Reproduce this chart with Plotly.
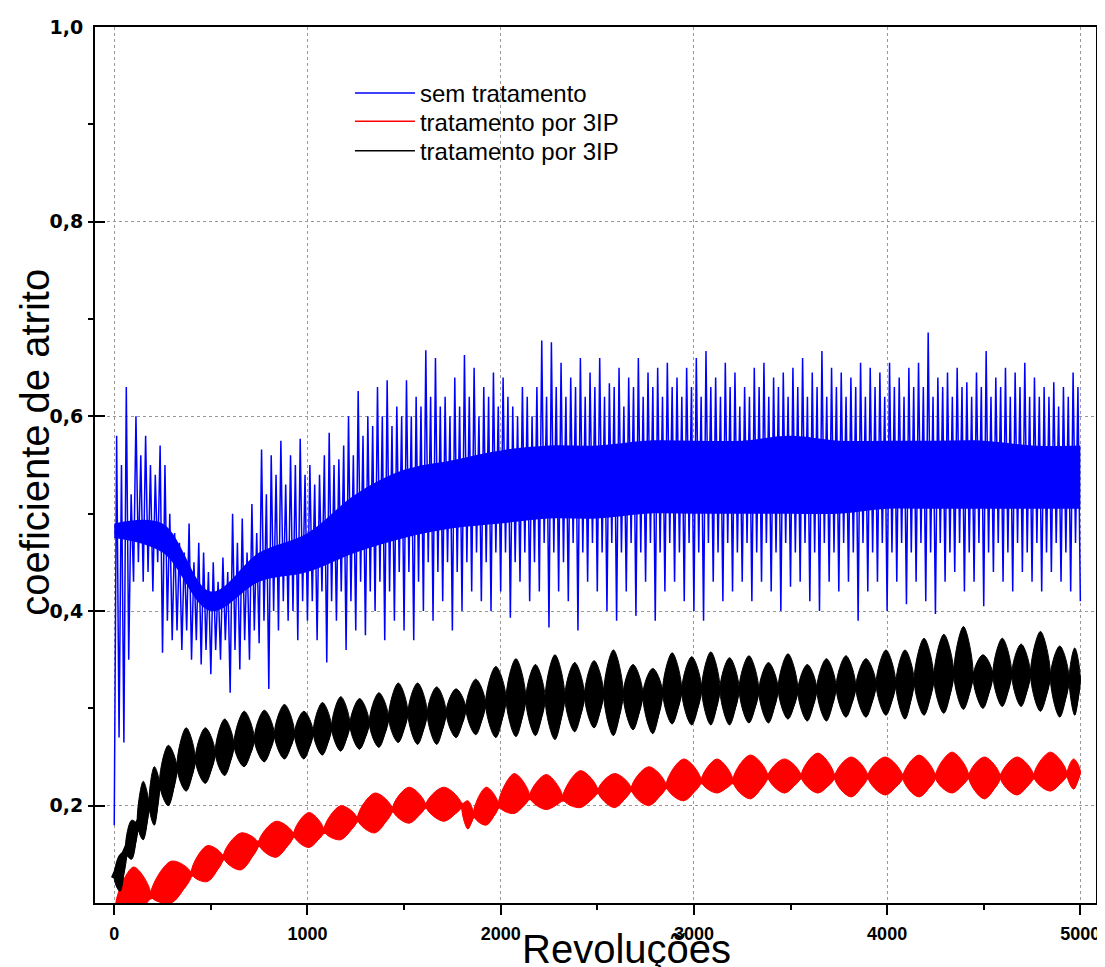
import plotly.graph_objects as go

# ---------------- data ----------------
x_tick_vals = [0, 1000, 2000, 3000, 4000, 5000]
y_tick_vals = [0.2, 0.4, 0.6, 0.8, 1.0]
y_tick_text = ["0,2", "0,4", "0,6", "0,8", "1,0"]
series_names = ["sem tratamento", "tratamento por 3IP", "tratamento por 3IP"]
x_title = "Revoluções"
y_title = "coeficiente de atrito"

# blue (sem tratamento): oscillation minima at 0,25,...,5000 rev and maxima at 12.5,37.5,...
blue_lo_rev = [25 * k for k in range(201)]
blue_lo = [
    0.18, 0.27, 0.265, 0.35, 0.43, 0.45, 0.43, 0.44, 0.42, 0.45,
    0.357, 0.39, 0.37, 0.38, 0.36, 0.38, 0.35, 0.37, 0.345, 0.36,
    0.335, 0.36, 0.35, 0.37, 0.316, 0.36, 0.34, 0.37, 0.35, 0.38,
    0.367, 0.39, 0.32, 0.4, 0.38, 0.41, 0.39, 0.4, 0.37, 0.41,
    0.39, 0.41, 0.37, 0.42, 0.347, 0.41, 0.39, 0.42, 0.36, 0.41,
    0.38, 0.43, 0.375, 0.42, 0.4, 0.43, 0.37, 0.42, 0.39, 0.44,
    0.38, 0.44, 0.37, 0.43, 0.4, 0.45, 0.39, 0.44, 0.41, 0.45,
    0.38, 0.44, 0.4, 0.45, 0.42, 0.46, 0.41, 0.45, 0.4, 0.46,
    0.42, 0.46, 0.393, 0.45, 0.43, 0.46, 0.41, 0.45, 0.42, 0.47,
    0.383, 0.46, 0.42, 0.45, 0.41, 0.47, 0.38, 0.46, 0.43, 0.47,
    0.42, 0.46, 0.4, 0.47, 0.39, 0.46, 0.42, 0.47, 0.395, 0.46,
    0.43, 0.47, 0.39, 0.46, 0.42, 0.47, 0.43, 0.46, 0.41, 0.47,
    0.4, 0.46, 0.39, 0.47, 0.43, 0.46, 0.41, 0.47, 0.42, 0.46,
    0.43, 0.47, 0.41, 0.46, 0.43, 0.47, 0.42, 0.46, 0.4, 0.47,
    0.425, 0.46, 0.43, 0.47, 0.41, 0.46, 0.4, 0.47, 0.43, 0.46,
    0.42, 0.47, 0.43, 0.46, 0.39, 0.47, 0.42, 0.46, 0.43, 0.47,
    0.4, 0.46, 0.43, 0.47, 0.407, 0.46, 0.43, 0.47, 0.41, 0.46,
    0.397, 0.47, 0.43, 0.46, 0.44, 0.47, 0.42, 0.46, 0.43, 0.47,
    0.405, 0.46, 0.44, 0.47, 0.43, 0.46, 0.42, 0.47, 0.44, 0.46,
    0.43, 0.47, 0.42, 0.46, 0.44, 0.47, 0.43, 0.46, 0.42, 0.47,
    0.41]
blue_hi_rev = [12.5 + 25 * k for k in range(200)]
blue_hi = [
    0.58, 0.55, 0.63, 0.52, 0.6, 0.56, 0.58, 0.55, 0.54, 0.57,
    0.55, 0.5, 0.48, 0.47, 0.46, 0.49, 0.45, 0.47, 0.46, 0.44,
    0.45, 0.43, 0.455, 0.44, 0.5, 0.47, 0.495, 0.46, 0.51, 0.48,
    0.566, 0.52, 0.56, 0.54, 0.575, 0.53, 0.56, 0.55, 0.577, 0.54,
    0.55, 0.53, 0.54, 0.56, 0.583, 0.55, 0.556, 0.57, 0.6, 0.56,
    0.626, 0.58, 0.6, 0.59, 0.63, 0.6, 0.637, 0.59, 0.61, 0.6,
    0.637, 0.6, 0.62, 0.61, 0.668, 0.62, 0.66, 0.61, 0.62, 0.6,
    0.64, 0.61, 0.663, 0.62, 0.65, 0.6, 0.63, 0.62, 0.645, 0.61,
    0.64, 0.62, 0.61, 0.6, 0.63, 0.62, 0.6, 0.63, 0.678, 0.62,
    0.676, 0.63, 0.655, 0.62, 0.64, 0.63, 0.66, 0.62, 0.645, 0.63,
    0.66, 0.62, 0.634, 0.63, 0.65, 0.61, 0.64, 0.63, 0.66, 0.62,
    0.645, 0.63, 0.65, 0.62, 0.655, 0.63, 0.64, 0.62, 0.65, 0.63,
    0.66, 0.62, 0.667, 0.63, 0.64, 0.62, 0.655, 0.63, 0.645, 0.61,
    0.63, 0.62, 0.65, 0.63, 0.655, 0.62, 0.64, 0.63, 0.645, 0.62,
    0.65, 0.63, 0.66, 0.62, 0.645, 0.63, 0.667, 0.62, 0.65, 0.63,
    0.645, 0.62, 0.64, 0.63, 0.655, 0.62, 0.65, 0.63, 0.645, 0.62,
    0.655, 0.63, 0.64, 0.62, 0.65, 0.63, 0.655, 0.63, 0.686, 0.62,
    0.64, 0.63, 0.645, 0.62, 0.65, 0.63, 0.635, 0.62, 0.645, 0.63,
    0.667, 0.62, 0.64, 0.63, 0.65, 0.62, 0.645, 0.63, 0.655, 0.62,
    0.64, 0.62, 0.63, 0.62, 0.635, 0.61, 0.63, 0.62, 0.645, 0.63]
# dense (solid) core of the blue band
blue_core_rev = [250 * k for k in range(21)]
blue_core_top = [0.49, 0.49, 0.42, 0.46, 0.48, 0.52, 0.545, 0.555, 0.565, 0.57, 0.57,
                 0.575, 0.575, 0.575, 0.58, 0.575, 0.575, 0.575, 0.575, 0.57, 0.57]
blue_core_bot = [0.475, 0.46, 0.4, 0.43, 0.44, 0.46, 0.475, 0.485, 0.49, 0.495, 0.495,
                 0.5, 0.5, 0.5, 0.5, 0.5, 0.505, 0.505, 0.505, 0.505, 0.505]

# black: beaded band, neck positions/values and bead top/bottom
black_neck_rev = [0, 60, 120, 180, 235, 325, 420, 523, 620, 725, 829, 933, 1030, 1125, 1220,
                  1320, 1420, 1520, 1620, 1718, 1820, 1922, 2028, 2130, 2230, 2332, 2434,
                  2533, 2634, 2736, 2838, 2937, 3040, 3135, 3234, 3336, 3436, 3538, 3636,
                  3736, 3838, 3943, 4045, 4140, 4242, 4345, 4445, 4547, 4645, 4742, 4845,
                  4942, 5000]
black_neck_val = [0.125, 0.152, 0.18, 0.2, 0.222, 0.239, 0.247, 0.254, 0.262, 0.268, 0.273,
                  0.274, 0.275, 0.28, 0.283, 0.285, 0.29, 0.295, 0.295, 0.296, 0.3, 0.305,
                  0.31, 0.31, 0.31, 0.312, 0.313, 0.315, 0.315, 0.315, 0.317, 0.318, 0.32,
                  0.32, 0.32, 0.318, 0.32, 0.318, 0.32, 0.322, 0.322, 0.325, 0.325, 0.328,
                  0.33, 0.335, 0.333, 0.335, 0.335, 0.335, 0.333, 0.33, 0.33]
black_top = [0.15, 0.185, 0.225, 0.24, 0.262, 0.28, 0.28, 0.289, 0.297, 0.298,
             0.304, 0.297, 0.306, 0.312, 0.31, 0.316, 0.326, 0.326, 0.322, 0.32,
             0.33, 0.343, 0.351, 0.345, 0.355, 0.347, 0.349, 0.36, 0.345, 0.341,
             0.357, 0.353, 0.358, 0.352, 0.354, 0.347, 0.356, 0.345, 0.351, 0.354,
             0.351, 0.36, 0.36, 0.372, 0.376, 0.384, 0.355, 0.372, 0.366, 0.379,
             0.364, 0.362]
black_bot = [0.112, 0.145, 0.165, 0.18, 0.2, 0.215, 0.223, 0.231, 0.24, 0.245,
             0.248, 0.248, 0.252, 0.256, 0.258, 0.26, 0.265, 0.263, 0.263, 0.27,
             0.273, 0.27, 0.271, 0.272, 0.268, 0.276, 0.28, 0.272, 0.278, 0.274,
             0.284, 0.283, 0.283, 0.283, 0.285, 0.285, 0.289, 0.287, 0.287, 0.291,
             0.291, 0.293, 0.289, 0.293, 0.295, 0.299, 0.3, 0.302, 0.302, 0.297,
             0.291, 0.293]

# red: beaded band
red_neck_rev = [10, 190, 400, 565, 747, 929, 1086, 1259, 1440, 1612, 1800, 1860, 1990, 2150,
                2322, 2503, 2676, 2857, 3038, 3202, 3383, 3555, 3728, 3900, 4081, 4250, 4422,
                4586, 4759, 4931, 5000]
red_neck_val = [0.095, 0.107, 0.13, 0.147, 0.161, 0.17, 0.174, 0.186, 0.196, 0.2, 0.2, 0.19,
                0.2, 0.209, 0.207, 0.215, 0.217, 0.22, 0.225, 0.225, 0.23, 0.23, 0.229, 0.23,
                0.229, 0.229, 0.23, 0.229, 0.23, 0.232, 0.235]
red_top = [0.137, 0.143, 0.159, 0.172, 0.184, 0.193, 0.2, 0.213, 0.219, 0.219,
           0.205, 0.219, 0.233, 0.232, 0.236, 0.233, 0.24, 0.248, 0.248, 0.252,
           0.248, 0.254, 0.25, 0.25, 0.252, 0.255, 0.25, 0.25, 0.255, 0.248]
red_bot = [0.09, 0.1, 0.122, 0.134, 0.147, 0.157, 0.165, 0.172, 0.182, 0.184,
           0.176, 0.18, 0.192, 0.196, 0.198, 0.198, 0.2, 0.205, 0.213, 0.207,
           0.213, 0.213, 0.209, 0.211, 0.209, 0.213, 0.207, 0.211, 0.215, 0.217]

BLUE, RED, BLACK = "#0000FF", "#FF0000", "#000000"


def bead_path(neck_rev, neck_val, top, bot):
    xs, ys = [], []
    for i in range(len(top)):
        nl, nr = neck_rev[i], neck_rev[i + 1]
        c = (nl + nr) / 2
        ml, mr = neck_val[i], neck_val[i + 1]
        xs += [nr, c, nl, c, nr, c, None]
        ys += [mr, bot[i], ml, top[i], mr, bot[i], None]
    return xs, ys


fig = go.Figure()

# blue core band
fig.add_trace(go.Scatter(x=blue_core_rev, y=blue_core_top, mode="lines",
                         line=dict(color=BLUE, width=0, shape="spline"),
                         showlegend=False, hoverinfo="skip"))
fig.add_trace(go.Scatter(x=blue_core_rev, y=blue_core_bot, mode="lines",
                         line=dict(color=BLUE, width=0, shape="spline"),
                         fill="tonexty", fillcolor=BLUE,
                         showlegend=False, hoverinfo="skip"))
# blue oscillation
pts = sorted(list(zip(blue_lo_rev, blue_lo)) + list(zip(blue_hi_rev, blue_hi)))
fig.add_trace(go.Scatter(x=[p[0] for p in pts], y=[p[1] for p in pts], mode="lines",
                         line=dict(color=BLUE, width=1.5), name=series_names[0],
                         legend="legend"))

# red beads
rx, ry = bead_path(red_neck_rev, red_neck_val, red_top, red_bot)
fig.add_trace(go.Scatter(x=rx, y=ry, mode="lines", fill="toself", fillcolor=RED,
                         line=dict(color=RED, width=1, shape="spline", smoothing=1),
                         showlegend=False, hoverinfo="skip"))
fig.add_trace(go.Scatter(x=red_neck_rev, y=red_neck_val, mode="lines",
                         line=dict(color=RED, width=6), showlegend=False, hoverinfo="skip"))
fig.add_trace(go.Scatter(x=red_neck_rev, y=red_neck_val, mode="lines",
                         line=dict(color=RED, width=1.5), name=series_names[1],
                         legend="legend2"))

# black beads
bx, by = bead_path(black_neck_rev, black_neck_val, black_top, black_bot)
fig.add_trace(go.Scatter(x=bx, y=by, mode="lines", fill="toself", fillcolor=BLACK,
                         line=dict(color=BLACK, width=1, shape="spline", smoothing=1),
                         showlegend=False, hoverinfo="skip"))
fig.add_trace(go.Scatter(x=black_neck_rev, y=black_neck_val, mode="lines",
                         line=dict(color=BLACK, width=7), showlegend=False, hoverinfo="skip"))
fig.add_trace(go.Scatter(x=black_neck_rev, y=black_neck_val, mode="lines",
                         line=dict(color=BLACK, width=1.5), name=series_names[2],
                         legend="legend3"))

axis_common = dict(
    showline=True, linewidth=2, linecolor="black", mirror=True,
    tickwidth=2, tickcolor="black",
    showgrid=True, gridcolor="#999999", gridwidth=1, griddash="dot",
    zeroline=False,
)

fig.update_xaxes(range=[-99.5, 5081], tickvals=x_tick_vals,
                 ticks="outside", ticklen=10, ticklabelstandoff=3,
                 tickfont=dict(family="Liberation Sans", size=18, color="black", weight="bold"),
                 minor=dict(dtick=500, tick0=0, ticks="outside", ticklen=5, tickwidth=2,
                            tickcolor="black", showgrid=False),
                 **axis_common)
fig.update_yaxes(range=[0.1, 1.0], tickvals=y_tick_vals, ticktext=y_tick_text,
                 ticks="inside", ticklen=10, ticklabelstandoff=6,
                 tickfont=dict(family="DejaVu Sans", size=19, color="black", weight="bold"),
                 minor=dict(dtick=0.1, tick0=0.1, ticks="outside", ticklen=5, tickwidth=2,
                            tickcolor="black", showgrid=False),
                 **axis_common)

leg_common = dict(xanchor="left", yanchor="middle", bgcolor="rgba(0,0,0,0)",
                  itemwidth=60, font=dict(family="Liberation Sans", size=24, color="black"))

fig.update_layout(
    width=1097, height=959,
    margin=dict(l=87, r=5, t=19, b=64),
    paper_bgcolor="white", plot_bgcolor="white",
    font=dict(family="Liberation Sans", color="black"),
    legend=dict(x=0.2547, y=0.9243, **leg_common),
    legend2=dict(x=0.2547, y=0.8919, **leg_common),
    legend3=dict(x=0.2547, y=0.8584, **leg_common),
    annotations=[
        dict(text=x_title, xref="paper", yref="paper", x=0.5313, y=-0.0525,
             xanchor="center", yanchor="middle", showarrow=False,
             font=dict(family="Liberation Sans", size=40, color="black")),
        dict(text=y_title, xref="paper", yref="paper", x=-0.0597, y=0.5257,
             xanchor="center", yanchor="middle", showarrow=False, textangle=-90,
             font=dict(family="Liberation Sans", size=40, color="black")),
    ],
)

fig.write_html("out.html")
